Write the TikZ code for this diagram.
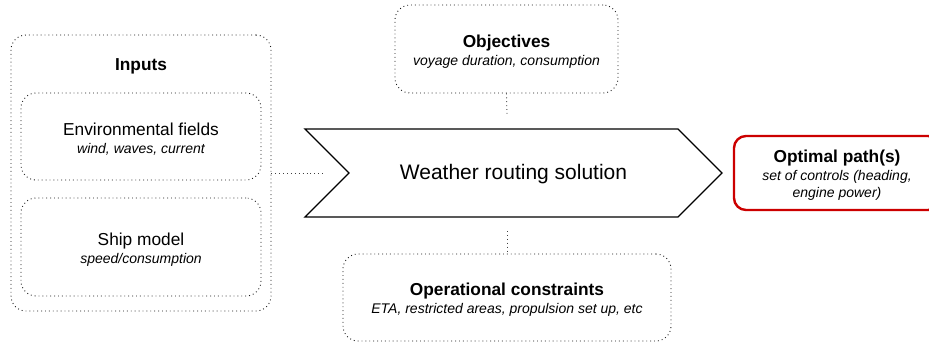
\documentclass[tikz,border=0pt]{standalone}
\usepackage{fontspec}
\setmainfont{Liberation Sans}
\begin{document}
\begin{tikzpicture}[x=1pt,y=-1pt,
  dotbox/.style={draw=black!90, line width=0.9pt, dash pattern=on 0.9pt off 3pt, rounded corners=15pt, inner sep=0pt},
  boxtext/.style={align=center, font=\fontsize{14}{18}\selectfont, inner sep=0pt, yshift=-2.5pt},
  dotline/.style={draw=black!75, line width=0.9pt, dash pattern=on 0.9pt off 3pt},
  titlef/.style={font=\fontsize{17.3}{20}\selectfont\bfseries},
]
\useasboundingbox (0,0) rectangle (929,343);
\clip (0,0) rectangle (929,343);
\newcommand\ttl[1]{{\fontsize{17.3}{20}\selectfont\bfseries #1}}
\newcommand\rgl[1]{{\fontsize{17.3}{20}\selectfont #1}}
\newcommand\sub[1]{{\itshape #1}}

% Inputs group
\node[dotbox, minimum width=260pt, minimum height=276pt] (inputs) at (141,173) {};
\node[titlef, anchor=base] (inputstitle) at (141,70) {Inputs};
\node[dotbox, minimum width=240pt, minimum height=87pt] (env) at (141,136.5) {};
\node[boxtext] (envtext) at (env.center) {\rgl{Environmental fields}\\\sub{wind, waves, current}};
\node[dotbox, minimum width=240pt, minimum height=98pt] (ship) at (141,247) {};
\node[boxtext] (shiptext) at (ship.center) {\rgl{Ship model}\\\sub{speed/consumption}};

% Objectives
\node[dotbox, minimum width=223pt, minimum height=88pt] (obj) at (506.5,49) {};
\node[boxtext] (objtext) at (obj.center) {\ttl{Objectives}\\\sub{voyage duration, consumption}};

% Constraints
\node[dotbox, minimum width=328pt, minimum height=87pt] (cons) at (507,297.5) {};
\node[boxtext] (constext) at (cons.center) {\ttl{Operational constraints}\\\sub{ETA, restricted areas, propulsion set up, etc}};

% Weather routing solution chevron
\draw[line width=1.3pt, line join=miter] (305,129) -- (678,129) -- (722,173) -- (678,217) -- (305,217) -- (349,173) -- cycle;
\node[font=\fontsize{21}{24}\selectfont] (wrs) at (513.5,174) {Weather routing solution};

% Optimal paths
\node[draw=red!80!black, line width=2.4pt, rounded corners=12pt, minimum width=206pt, minimum height=74pt, inner sep=0pt] (opt) at (837,173) {};
\node[boxtext, font=\fontsize{14}{17.5}\selectfont] (opttext) at (opt.center) {\ttl{Optimal path(s)}\\\sub{set of controls (heading,}\\\sub{engine power)}};

% connectors
\coordinate (inend) at (325,173);
\coordinate (objend) at (507,115);
\coordinate (consstart) at (507,231);
\draw[dotline] (inputs.east) -- (inend);
\draw[dotline] (obj.south) -- (objend);
\draw[dotline] (consstart) -- (cons.north);
\end{tikzpicture}
\end{document}
